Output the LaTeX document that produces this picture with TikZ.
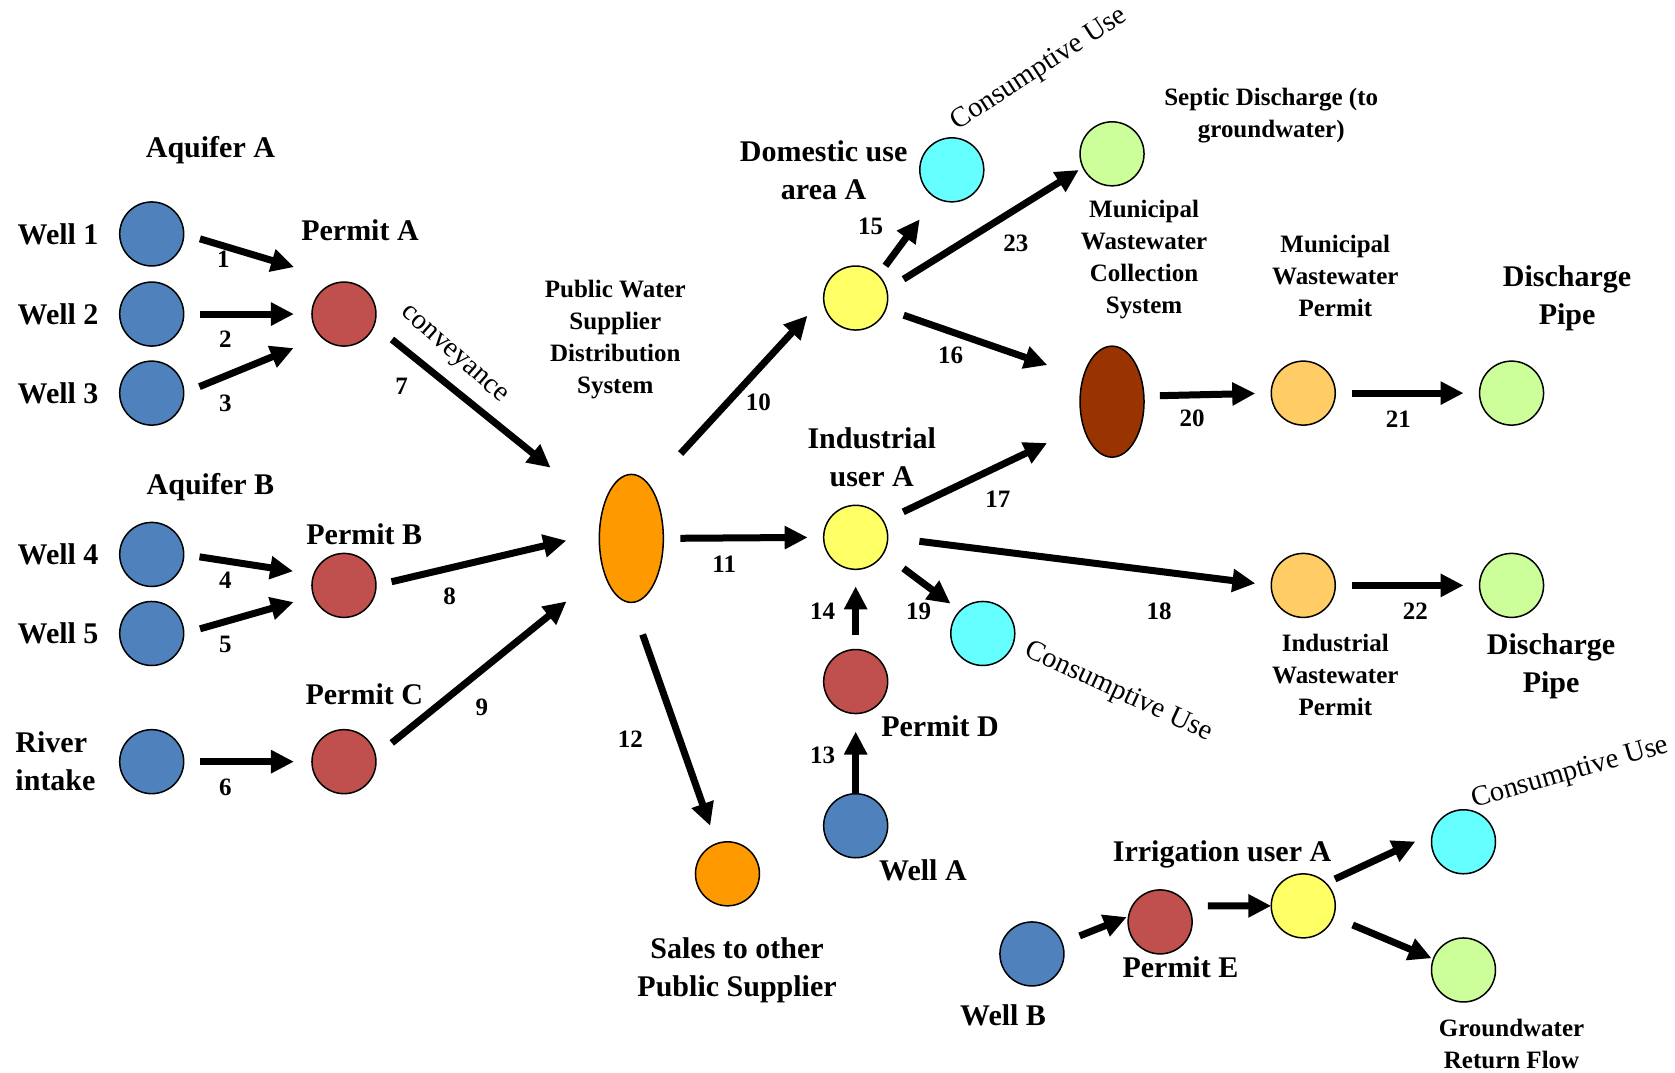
\documentclass[tikz,border=0pt]{standalone}
\usepackage{fontspec}
\setmainfont{Liberation Serif}
\usetikzlibrary{arrows.meta, positioning, shapes.geometric}
\definecolor{wellBlue}{HTML}{4F81BD}
\definecolor{permitRed}{HTML}{C0504D}
\definecolor{supplyOrange}{HTML}{FF9900}
\definecolor{userYellow}{HTML}{FFFF66}
\definecolor{lossCyan}{HTML}{66FFFF}
\definecolor{returnGreen}{HTML}{CCFF99}
\definecolor{sewerBrown}{HTML}{993300}
\definecolor{wwPermit}{HTML}{FFCC66}

\begin{document}
\begin{tikzpicture}[
  x=1.0683pt, y=-1.0683pt,
  site/.style={circle, draw=black, line width=1.5pt, minimum size=64pt, inner sep=0pt, outer sep=0pt},
  well/.style={site, fill=wellBlue},
  permit/.style={site, fill=permitRed},
  sale/.style={site, fill=supplyOrange},
  user/.style={site, fill=userYellow},
  loss/.style={site, fill=lossCyan},
  gain/.style={site, fill=returnGreen},
  wwp/.style={site, fill=wwPermit},
  hub/.style={ellipse, draw=black, line width=1.5pt, minimum width=64pt, inner sep=0pt, outer sep=0pt},
  big/.style={font=\fontsize{30}{38}\selectfont\bfseries, align=center, inner sep=0pt},
  mid/.style={font=\fontsize{25}{32}\selectfont\bfseries, align=center, inner sep=0pt},
  num/.style={font=\fontsize{25}{30}\selectfont\bfseries, inner sep=0pt},
  cu/.style={font=\fontsize{28.5}{32}\selectfont, inner sep=0pt},
  flow/.style={-{Triangle[length=23pt, width=22pt]}, line width=7pt}
]
\useasboundingbox (0,0) rectangle (1568,1004);

% sources and permits
\node[well] (w1) at (142,219) {};
\node[well] (w2) at (142,294) {};
\node[well] (w3) at (142,368) {};
\node[permit] (pa) at (322,294) {};
\node[well] (w4) at (142,519) {};
\node[well] (w5) at (142,593) {};
\node[permit] (pb) at (322,548) {};
\node[well] (riv) at (142,713) {};
\node[permit] (pc) at (322,713) {};

\node[big, left=21pt of w1] (lw1) {Well 1};
\node[big, left=21pt of w2] (lw2) {Well 2};
\node[big, left=21pt of w3] (lw3) {Well 3};
\node[big, left=21pt of w4] (lw4) {Well 4};
\node[big, left=21pt of w5] (lw5) {Well 5};
\node[big, left=24pt of riv, align=left] (lriv) {River\\intake};
\node[big] (aqa) at (197,141) {Aquifer A};
\node[big] (aqb) at (197,456) {Aquifer B};
\node[big] (lpa) at (337,216) {Permit A};
\node[big] (lpb) at (341,500) {Permit B};
\node[big] (lpc) at (341,650) {Permit C};

% public supplier
\node[hub, fill=supplyOrange, minimum height=128pt] (pws) at (591,504) {};
\node[sale] (sales) at (681,818) {};
\node[mid] (lpws) at (576,318) {Public Water\\Supplier\\Distribution\\System};
\node[big] (lsales) at (690,908) {Sales to other\\Public Supplier};

% users
\node[user] (dom) at (801,279) {};
\node[loss] (cud) at (891,159) {};
\node[gain] (sep) at (1041,144) {};
\node[hub, fill=sewerBrown, minimum height=111pt] (mwc) at (1041,376) {};
\node[wwp] (mwp) at (1220,368) {};
\node[gain] (dp1) at (1415,368) {};
\node[user] (ind) at (801,503) {};
\node[loss] (cui) at (920,593) {};
\node[permit] (pd) at (801,638) {};
\node[well] (wa) at (801,773) {};
\node[wwp] (iwp) at (1220,548) {};
\node[gain] (dp2) at (1415,548) {};
\node[well] (wb) at (966,893) {};
\node[permit] (pe) at (1086,863) {};
\node[user] (irr) at (1220,848) {};
\node[loss] (cuirr) at (1370,788) {};
\node[gain] (gw) at (1370,908) {};

\node[big] (ldom) at (771,159) {Domestic use\\area A};
\node[cu, rotate=33] (lcud) at (973,65) {Consumptive Use};
\node[mid] (lsep) at (1190,108) {Septic Discharge (to\\groundwater)};
\node[mid] (lmwc) at (1071,243) {Municipal\\Wastewater\\Collection\\System};
\node[mid] (lmwp) at (1250,258) {Municipal\\Wastewater\\Permit};
\node[big] (ldp1) at (1467,279) {Discharge\\Pipe};
\node[big] (lind) at (816,428) {Industrial\\user A};
\node[cu, rotate=-25] (lcui) at (1047,648) {Consumptive Use};
\node[mid] (liwp) at (1250,632) {Industrial\\Wastewater\\Permit};
\node[big] (ldp2) at (1452,624) {Discharge\\Pipe};
\node[big] (lpd) at (880,680) {Permit D};
\node[big] (lwa) at (864,815) {Well A};
\node[big] (lirr) at (1144,800) {Irrigation user A};
\node[cu, rotate=16] (lcuirr) at (1470,724) {Consumptive Use};
\node[big] (lpe) at (1105,905) {Permit E};
\node[big] (lwb) at (939,950) {Well B};
\node[mid] (lgw) at (1415,977) {Groundwater\\Return Flow};

% flows
\draw[flow, shorten <=17pt, shorten >=52pt] (w1.east) -- (pa.north);
\draw[flow, shorten <=16pt, shorten >=18pt] (w2.east) -- (pa.west);
\draw[flow, shorten <=17pt, shorten >=30pt] (w3.east) -- (pa.south west);
\draw[flow, shorten <=16pt, shorten >=21pt] (w4.east) -- (pb.160);
\draw[flow, shorten <=17pt, shorten >=21pt] (w5.east) -- (pb.200);
\draw[flow, shorten <=16pt, shorten >=18pt] (riv.east) -- (pc.west);
\draw[flow, shorten <=23pt, shorten >=67pt] (pa.-20) -- (pws.135);
\draw[flow, shorten <=16pt, shorten >=34pt] (pb.east) -- (pws.170);
\draw[flow, shorten <=21pt, shorten >=48pt] (pc.10) -- (pws.230);
\draw[flow, shorten <=45pt, shorten >=24pt] (pws.70) -- (dom.west);
\draw[flow, shorten <=17pt, shorten >=16pt] (pws.east) -- (ind.west);
\draw[flow, shorten <=34pt, shorten >=19pt] (pws.south) -- (sales.110);
\draw[flow, shorten <=12pt, shorten >=27pt] (dom.45) -- (cud.240);
\draw[flow, shorten <=20pt, shorten >=5pt] (dom.15) -- (sep.205);
\draw[flow, shorten <=19pt, shorten >=38pt] (dom.-20) -- (mwc.140);
\draw[flow, shorten <=22pt, shorten >=40pt] (ind.30) -- (mwc.220);
\draw[flow, shorten <=32pt, shorten >=16pt] (ind.east) -- (iwp.west);
\draw[flow, shorten <=25pt, shorten >=12pt] (ind.-30) -- (cui.135);
\draw[flow, shorten <=15pt, shorten >=17pt] (pd.north) -- (ind.south);
\draw[flow, shorten <=1pt, shorten >=18pt] (wa.north) -- (pd.south);
\draw[flow, shorten <=16pt, shorten >=16pt] (mwc.10) -- (mwp.west);
\draw[flow, shorten <=17pt, shorten >=16pt] (mwp.east) -- (dp1.west);
\draw[flow, shorten <=17pt, shorten >=16pt] (iwp.east) -- (dp2.west);
\draw[flow, shorten <=19pt, shorten >=2pt] (wb.20) -- (pe.170);
\draw[flow, shorten <=20pt, shorten >=0pt] (pe.30) -- (irr.west);
\draw[flow, shorten <=10pt, shorten >=19pt] (irr.45) -- (cuirr.165);
\draw[flow, shorten <=21pt, shorten >=2pt] (irr.-20) -- (gw.160);

\node[cu, rotate=-41.7] (lconv) at (424,333) {conveyance};

% flow numbers
\node[num] (n1) at (209,243) {1};
\node[num] (n2) at (211,318) {2};
\node[num] (n3) at (211,378) {3};
\node[num] (n4) at (211,543) {4};
\node[num] (n5) at (211,603) {5};
\node[num] (n6) at (211,737) {6};
\node[num] (n7) at (376,362) {7};
\node[num] (n8) at (421,558) {8};
\node[num] (n9) at (451,662) {9};
\node[num] (n10) at (710,377) {10};
\node[num] (n11) at (678,528) {11};
\node[num] (n12) at (590,692) {12};
\node[num] (n13) at (770,707) {13};
\node[num] (n14) at (770,572) {14};
\node[num] (n15) at (815,212) {15};
\node[num] (n16) at (890,333) {16};
\node[num] (n17) at (934,467) {17};
\node[num] (n18) at (1085,572) {18};
\node[num] (n19) at (860,572) {19};
\node[num] (n20) at (1116,392) {20};
\node[num] (n21) at (1309,392) {21};
\node[num] (n22) at (1325,572) {22};
\node[num] (n23) at (951,228) {23};
\end{tikzpicture}
\end{document}
